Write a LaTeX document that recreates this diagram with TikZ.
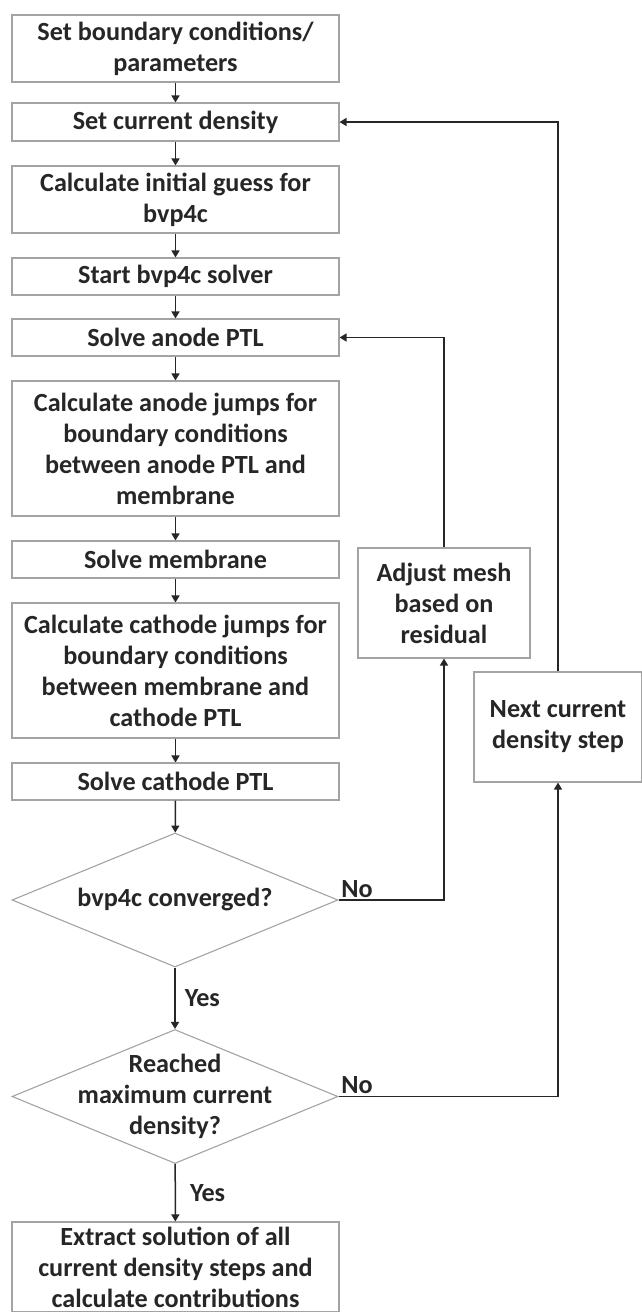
\documentclass[tikz,border=0pt]{standalone}
\usepackage{fontspec}
\setmainfont{Carlito}
\usetikzlibrary{shapes.geometric,arrows.meta}
\definecolor{boxgray}{HTML}{A3A3A3}
\definecolor{inkgray}{HTML}{262626}
\tikzset{
	box/.style={draw=boxgray, line width=1.1pt, text=inkgray, minimum width=327pt,
		align=center, inner sep=0pt, font=\bfseries\fontsize{26.2}{31}\selectfont},
	sidebox/.style={box, minimum width=172pt},
	dia/.style={diamond, shape aspect=2.433, draw=boxgray, line width=1.1pt, text=inkgray,
		align=center, minimum width=326pt, minimum height=134pt, inner sep=-14pt,
		font=\bfseries\fontsize{26.2}{31}\selectfont},
	arr/.style={draw=inkgray, line width=1.5pt, -{Triangle[length=7pt,width=8pt]}},
	lbl/.style={text=inkgray, inner sep=2pt, font=\bfseries\fontsize{26.2}{31}\selectfont},
}

\begin{document}
\begin{tikzpicture}[x=1pt, y=-1pt]
\useasboundingbox (0,0) rectangle (641,1312);

\node[box, minimum height=67pt] (bc) at (175.5,48.5) {Set boundary conditions/\\parameters};
\node[box, minimum height=38pt] (cd) at (175.5,122) {Set current density};
\node[box, minimum height=67pt] (guess) at (175.5,199.5) {Calculate initial guess for\\bvp4c};
\node[box, minimum height=37pt] (start) at (175.5,276.5) {Start bvp4c solver};
\node[box, minimum height=37pt] (anode) at (175.5,337.5) {Solve anode PTL};
\node[box, minimum height=135pt] (ajump) at (175.5,448.5) {Calculate anode jumps for\\boundary conditions\\between anode PTL and\\membrane};
\node[box, minimum height=37pt] (memb) at (175.5,559.5) {Solve membrane};
\node[box, minimum height=135pt] (cjump) at (175.5,670.5) {Calculate cathode jumps for\\boundary conditions\\between membrane and\\cathode PTL};
\node[box, minimum height=37pt] (cathode) at (175.5,781.5) {Solve cathode PTL};
\node[dia] (conv) at (175,900) {bvp4c converged?};
\node[dia] (maxcd) at (175,1096.5) {Reached\\maximum current\\density?};
\node[box, minimum height=90pt] (extract) at (175.5,1267) {Extract solution of all\\current density steps and\\calculate contributions};

\node[sidebox, minimum height=110pt] (mesh) at (444,603) {Adjust mesh\\based on\\residual};
\node[sidebox, minimum width=168pt, minimum height=110pt] (next) at (558,727) {Next current\\density step};

\draw[arr] (bc) -- (cd);
\draw[arr] (cd) -- (guess);
\draw[arr] (guess) -- (start);
\draw[arr] (start) -- (anode);
\draw[arr] (anode) -- (ajump);
\draw[arr] (ajump) -- (memb);
\draw[arr] (memb) -- (cjump);
\draw[arr] (cjump) -- (cathode);
\draw[arr] (cathode) -- (conv);
\draw[arr] (conv) -- node[lbl, right=7pt] (yes1) {Yes} (maxcd);
\draw[arr] (maxcd) -- node[lbl, right=12pt] (yes2) {Yes} (extract);

\draw[arr] (conv.east) node[lbl, above right] (no1) {No} -| (mesh.south);
\draw[arr] (mesh.north) |- (anode.east);
\draw[arr] (maxcd.east) node[lbl, above right] (no2) {No} -| (next.south);
\draw[arr] (next.north) |- (cd.east);
\end{tikzpicture}
\end{document}
